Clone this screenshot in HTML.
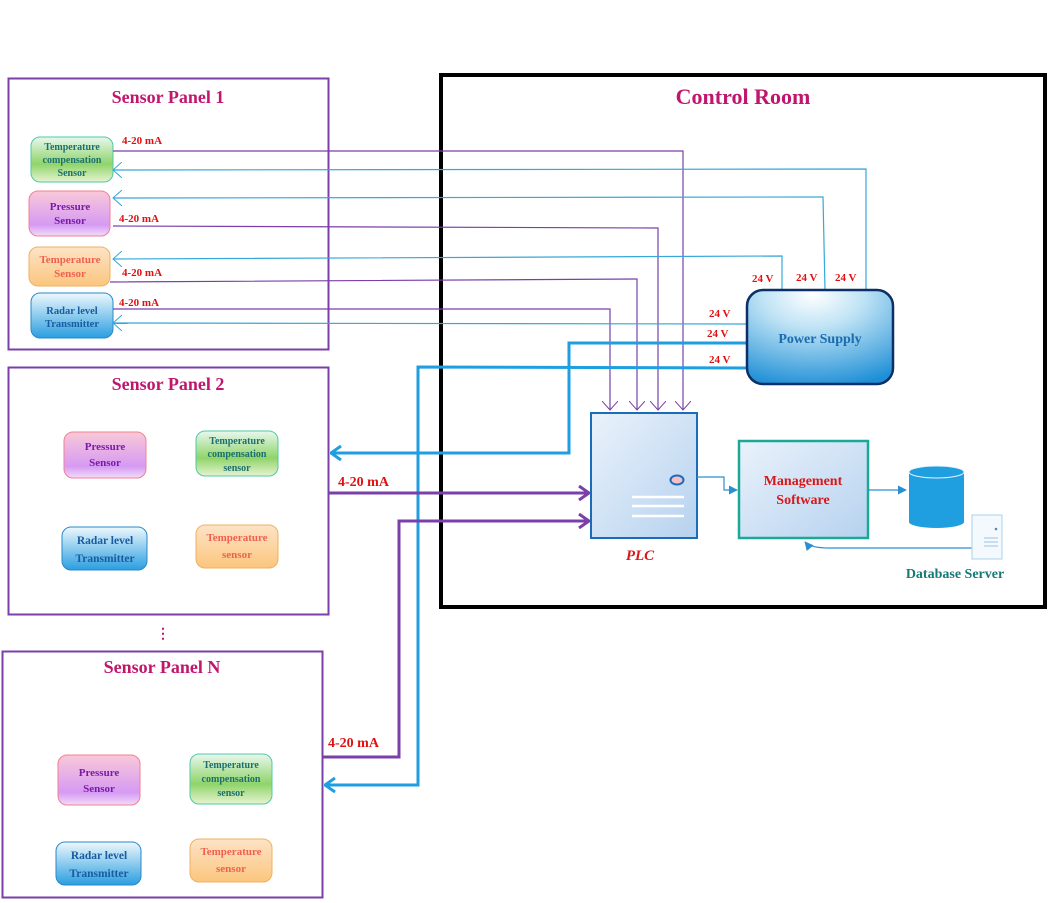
<!DOCTYPE html>
<html><head><meta charset="utf-8"><style>
html,body{margin:0;padding:0;background:#fff;}
svg{display:block;}
text{font-family:"Liberation Serif",serif;font-weight:bold;}
</style></head><body>
<svg width="1051" height="903" viewBox="0 0 1051 903" xmlns="http://www.w3.org/2000/svg">
<defs>
<linearGradient id="gGreen" x1="0" y1="0" x2="0" y2="1"><stop offset="0" stop-color="#e8f8ee"/><stop offset="0.6" stop-color="#8fd46a"/><stop offset="1" stop-color="#e6f3d0"/></linearGradient>
<linearGradient id="gPink" x1="0" y1="0" x2="0" y2="1"><stop offset="0" stop-color="#f9c9d8"/><stop offset="0.75" stop-color="#d69af3"/><stop offset="1" stop-color="#f2dcf8"/></linearGradient>
<linearGradient id="gOrange" x1="0" y1="0" x2="0" y2="1"><stop offset="0" stop-color="#fde3c6"/><stop offset="1" stop-color="#fbc67e"/></linearGradient>
<linearGradient id="gBlue" x1="0" y1="0" x2="0" y2="1"><stop offset="0" stop-color="#eef8fd"/><stop offset="1" stop-color="#2a9ee0"/></linearGradient>
<radialGradient id="gPS" cx="0.45" cy="0.05" r="1"><stop offset="0" stop-color="#ffffff"/><stop offset="0.35" stop-color="#bfe3f5"/><stop offset="1" stop-color="#1e8fd6"/></radialGradient>
<linearGradient id="gBox" x1="0" y1="0" x2="1" y2="1"><stop offset="0" stop-color="#eaf2fb"/><stop offset="1" stop-color="#b6d2ef"/></linearGradient>
<marker id="aOpen" viewBox="0 0 10 16" refX="9" refY="8" markerWidth="10" markerHeight="16" orient="auto" markerUnits="userSpaceOnUse"><path d="M0,0 L9,8 L0,16" fill="none" stroke="context-stroke" stroke-width="1"/></marker>
<marker id="aOpenBig" viewBox="0 0 12 16" refX="11" refY="8" markerWidth="12" markerHeight="16" orient="auto" markerUnits="userSpaceOnUse"><path d="M1,1 L11,8 L1,15" fill="none" stroke="context-stroke" stroke-width="3"/></marker>
<marker id="aFill" viewBox="0 0 10 10" refX="9" refY="5" markerWidth="9" markerHeight="9" orient="auto" markerUnits="userSpaceOnUse"><path d="M0,0 L10,5 L0,10 z" fill="#2a8fd0"/></marker>
</defs>

<rect x="8.5" y="78.5" width="320" height="271" fill="none" stroke="#7a3fa8" stroke-width="2"/>
<text x="168" y="103" font-size="18" fill="#c0166e" text-anchor="middle">Sensor Panel 1</text>
<rect x="8.5" y="367.5" width="320" height="247" fill="none" stroke="#7a3fa8" stroke-width="2"/>
<text x="168" y="390" font-size="18" fill="#c0166e" text-anchor="middle">Sensor Panel 2</text>
<rect x="2.5" y="651.5" width="320" height="246" fill="none" stroke="#7a3fa8" stroke-width="2"/>
<text x="162" y="673" font-size="18" fill="#c0166e" text-anchor="middle">Sensor Panel N</text>
<text x="163" y="638" font-size="14" fill="#c0166e" text-anchor="middle">⋮</text>

<rect x="441" y="75" width="604" height="532" fill="none" stroke="#000" stroke-width="4"/>
<text x="743" y="104" font-size="22" fill="#c0166e" text-anchor="middle">Control Room</text>

<rect x="31" y="137" width="82" height="45" rx="9" fill="url(#gGreen)" stroke="#50c8a8"/>
<text font-size="10" fill="#1c6f70" text-anchor="middle"><tspan x="72" y="150">Temperature</tspan><tspan x="72" y="163">compensation</tspan><tspan x="72" y="176">Sensor</tspan></text>
<rect x="29" y="191" width="81" height="45" rx="9" fill="url(#gPink)" stroke="#f08090"/>
<text font-size="11" fill="#7a1aa8" text-anchor="middle"><tspan x="70" y="210">Pressure</tspan><tspan x="70" y="224">Sensor</tspan></text>
<rect x="29" y="247" width="81" height="39" rx="9" fill="url(#gOrange)" stroke="#f0b060"/>
<text font-size="11" fill="#f06050" text-anchor="middle"><tspan x="70" y="263">Temperature</tspan><tspan x="70" y="277">Sensor</tspan></text>
<rect x="31" y="293" width="82" height="45" rx="9" fill="url(#gBlue)" stroke="#2a88c8"/>
<text font-size="10.5" fill="#1a5ca0" text-anchor="middle"><tspan x="72" y="314">Radar level</tspan><tspan x="72" y="327">Transmitter</tspan></text>

<rect x="64" y="432" width="82" height="46" rx="9" fill="url(#gPink)" stroke="#f08090"/>
<text font-size="11" fill="#7a1aa8" text-anchor="middle"><tspan x="105" y="450">Pressure</tspan><tspan x="105" y="466">Sensor</tspan></text>
<rect x="196" y="431" width="82" height="45" rx="9" fill="url(#gGreen)" stroke="#50c8a8"/>
<text font-size="10" fill="#1c6f70" text-anchor="middle"><tspan x="237" y="444">Temperature</tspan><tspan x="237" y="457">compensation</tspan><tspan x="237" y="471">sensor</tspan></text>
<rect x="62" y="527" width="85" height="43" rx="9" fill="url(#gBlue)" stroke="#2a88c8"/>
<text font-size="11.5" fill="#1a5ca0" text-anchor="middle"><tspan x="105" y="544">Radar level</tspan><tspan x="105" y="562">Transmitter</tspan></text>
<rect x="196" y="525" width="82" height="43" rx="9" fill="url(#gOrange)" stroke="#f0b060"/>
<text font-size="11" fill="#f06050" text-anchor="middle"><tspan x="237" y="541">Temperature</tspan><tspan x="237" y="558">sensor</tspan></text>

<rect x="58" y="755" width="82" height="50" rx="9" fill="url(#gPink)" stroke="#f08090"/>
<text font-size="11" fill="#7a1aa8" text-anchor="middle"><tspan x="99" y="776">Pressure</tspan><tspan x="99" y="792">Sensor</tspan></text>
<rect x="190" y="754" width="82" height="50" rx="9" fill="url(#gGreen)" stroke="#50c8a8"/>
<text font-size="10" fill="#1c6f70" text-anchor="middle"><tspan x="231" y="768">Temperature</tspan><tspan x="231" y="782">compensation</tspan><tspan x="231" y="796">sensor</tspan></text>
<rect x="56" y="842" width="85" height="43" rx="9" fill="url(#gBlue)" stroke="#2a88c8"/>
<text font-size="11.5" fill="#1a5ca0" text-anchor="middle"><tspan x="99" y="859">Radar level</tspan><tspan x="99" y="877">Transmitter</tspan></text>
<rect x="190" y="839" width="82" height="43" rx="9" fill="url(#gOrange)" stroke="#f0b060"/>
<text font-size="11" fill="#f06050" text-anchor="middle"><tspan x="231" y="855">Temperature</tspan><tspan x="231" y="872">sensor</tspan></text>

<g fill="none" stroke-width="1.2">
<polyline points="113,151 683,151 683,410" stroke="#7a3fa8" marker-end="url(#aOpen)"/>
<polyline points="866,290 866,169 113,170" stroke="#35a8d8" marker-end="url(#aOpen)"/>
<polyline points="825,290 823,197 113,198" stroke="#35a8d8" marker-end="url(#aOpen)"/>
<polyline points="113,226 658,228 658,410" stroke="#7a3fa8" marker-end="url(#aOpen)"/>
<polyline points="782,290 782,256 113,259" stroke="#35a8d8" marker-end="url(#aOpen)"/>
<polyline points="110,282 637,279 637,410" stroke="#7a3fa8" marker-end="url(#aOpen)"/>
<polyline points="113,309 610,309 610,410" stroke="#7a3fa8" marker-end="url(#aOpen)"/>
<polyline points="747,324 113,323" stroke="#35a8d8" marker-end="url(#aOpen)"/>
</g>

<g fill="none" stroke-width="3">
<polyline points="747,343 569,343 569,453 331,453" stroke="#1f9ee0" marker-end="url(#aOpenBig)"/>
<polyline points="747,368 418,367 418,785 325,785" stroke="#1f9ee0" marker-end="url(#aOpenBig)"/>
<polyline points="328,493 589,493" stroke="#7a3fa8" marker-end="url(#aOpenBig)"/>
<polyline points="322,757 399,757 399,521 589,521" stroke="#7a3fa8" marker-end="url(#aOpenBig)"/>
</g>

<g font-size="11" fill="#e01010">
<text x="122" y="144">4-20 mA</text>
<text x="119" y="222">4-20 mA</text>
<text x="122" y="276">4-20 mA</text>
<text x="119" y="306">4-20 mA</text>
</g>
<text x="338" y="486" font-size="14" fill="#e01010">4-20 mA</text>
<text x="328" y="747" font-size="14" fill="#e01010">4-20 mA</text>

<g font-size="11" fill="#e01010">
<text x="752" y="282">24 V</text>
<text x="796" y="281">24 V</text>
<text x="835" y="281">24 V</text>
<text x="709" y="317">24 V</text>
<text x="707" y="337">24 V</text>
<text x="709" y="363">24 V</text>
</g>

<rect x="747" y="290" width="146" height="94" rx="16" fill="url(#gPS)" stroke="#0b2f66" stroke-width="2.5"/>
<text x="820" y="343" font-size="14" fill="#1a6cb0" text-anchor="middle">Power Supply</text>

<rect x="591" y="413" width="106" height="125" fill="url(#gBox)" stroke="#1a6cb8" stroke-width="2"/>
<ellipse cx="677" cy="480" rx="6.5" ry="4.5" fill="#f4c0c8" stroke="#1a6cb8" stroke-width="2"/>
<g stroke="#fff" stroke-width="2.5"><line x1="632" y1="497" x2="684" y2="497"/><line x1="632" y1="506" x2="684" y2="506"/><line x1="632" y1="516" x2="684" y2="516"/></g>
<text x="640" y="560" font-size="15" font-style="italic" fill="#d81818" text-anchor="middle">PLC</text>

<rect x="739" y="441" width="129" height="97" fill="url(#gBox)" stroke="#1aa898" stroke-width="2.5"/>
<text font-size="14" fill="#d81818" text-anchor="middle"><tspan x="803" y="485">Management</tspan><tspan x="803" y="504">Software</tspan></text>

<polyline points="697,477 724,477 724,490 737,490" fill="none" stroke="#2a8fd0" stroke-width="1.2" marker-end="url(#aFill)"/>
<polyline points="868,490 906,490" fill="none" stroke="#2a8fd0" stroke-width="1.2" marker-end="url(#aFill)"/>
<path d="M972,548 L830,548 Q810,548 805,542" fill="none" stroke="#2a8fd0" stroke-width="1.2" marker-end="url(#aFill)"/>

<path d="M909,472 L909,522 A27.5,6 0 0 0 964,522 L964,472 Z" fill="#1f9ee0"/>
<ellipse cx="936.5" cy="472" rx="27.5" ry="6" fill="#1f9ee0" stroke="#e8f4fc" stroke-width="1"/>
<rect x="972" y="515" width="30" height="44" fill="#f4f9fd" stroke="#b8d8ee" stroke-width="1.2"/>
<circle cx="996" cy="529" r="1.3" fill="#4a8cc0"/>
<g stroke="#9cc4e2" stroke-width="1"><line x1="984" y1="538" x2="998" y2="538"/><line x1="984" y1="542" x2="998" y2="542"/><line x1="984" y1="546" x2="998" y2="546"/></g>
<text x="955" y="578" font-size="14" fill="#137a78" text-anchor="middle">Database Server</text>
</svg>
</body></html>
